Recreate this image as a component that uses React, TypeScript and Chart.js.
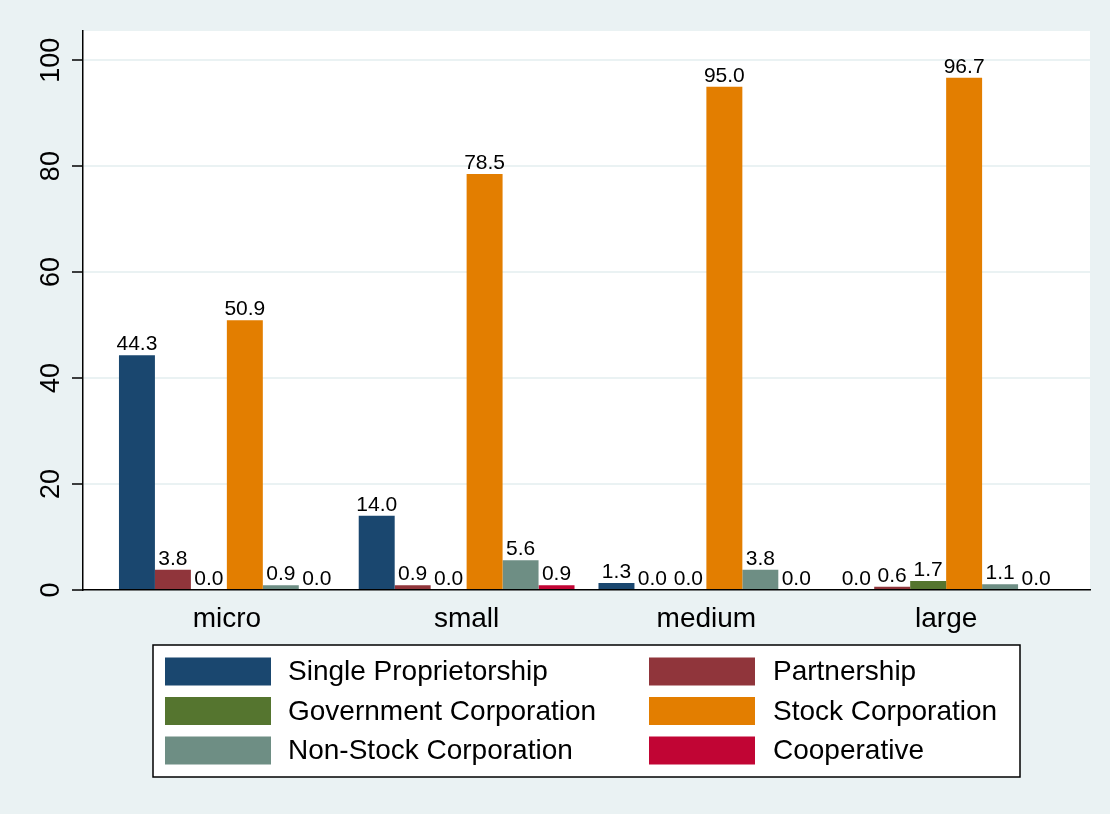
import React, { useEffect, useRef } from "react";
import { Chart, registerables } from "chart.js";

Chart.register(...registerables);

const categories = ["micro", "small", "medium", "large"];
const seriesNames = [
  "Single Proprietorship",
  "Partnership",
  "Government Corporation",
  "Stock Corporation",
  "Non-Stock Corporation",
  "Cooperative",
];
const singleProp = [44.3, 14.0, 1.3, 0.0];
const partnership = [3.8, 0.9, 0.0, 0.6];
const govCorp = [0.0, 0.0, 0.0, 1.7];
const stockCorp = [50.9, 78.5, 95.0, 96.7];
const nonStock = [0.9, 5.6, 3.8, 1.1];
const cooperative = [0.0, 0.9, 0.0, 0.0];
const yTicks = [0, 20, 40, 60, 80, 100];

const seriesValues = [singleProp, partnership, govCorp, stockCorp, nonStock, cooperative];
const colors = ["#1a476f", "#90353b", "#55752f", "#e37e00", "#6e8e84", "#c10534"];

const FONT = "'Liberation Sans', Arial, Helvetica, sans-serif";
const BG = "#eaf2f3";

const decorPlugin = {
  id: "decor",
  beforeDraw(chart: any) {
    const { ctx, chartArea } = chart;
    ctx.save();
    ctx.fillStyle = BG;
    ctx.fillRect(0, 0, chart.width, chart.height);
    ctx.fillStyle = "#ffffff";
    ctx.fillRect(chartArea.left, chartArea.top, chartArea.right - chartArea.left, chartArea.bottom - chartArea.top);
    ctx.restore();
  },
  afterDatasetsDraw(chart: any) {
    const { ctx } = chart;
    ctx.save();
    ctx.font = `21px ${FONT}`;
    ctx.fillStyle = "#000";
    ctx.textAlign = "center";
    ctx.textBaseline = "alphabetic";
    chart.data.datasets.forEach((ds: any, i: number) => {
      const meta = chart.getDatasetMeta(i);
      meta.data.forEach((el: any, j: number) => {
        const v = ds.data[j].y;
        ctx.fillText(v.toFixed(1), el.x, el.y - 5);
      });
    });
    ctx.restore();
  },
  afterDraw(chart: any) {
    const { ctx } = chart;
    const yScale = chart.scales.y;
    ctx.save();
    // y tick labels, rotated
    ctx.font = `27px ${FONT}`;
    ctx.fillStyle = "#000";
    ctx.textAlign = "center";
    ctx.textBaseline = "middle";
    yTicks.forEach((t) => {
      const y = yScale.getPixelForValue(t);
      ctx.save();
      ctx.translate(52, y);
      ctx.rotate(-Math.PI / 2);
      ctx.fillText(String(t), 0, 0);
      ctx.restore();
    });
    // legend
    const lx = 153, ly = 645, lw = 867, lh = 132;
    ctx.fillStyle = "#ffffff";
    ctx.fillRect(lx, ly, lw, lh);
    ctx.strokeStyle = "#000";
    ctx.lineWidth = 1.5;
    ctx.strokeRect(lx, ly, lw, lh);
    ctx.font = `28px ${FONT}`;
    ctx.textAlign = "left";
    ctx.textBaseline = "middle";
    seriesNames.forEach((name, i) => {
      const col = i % 2;
      const row = Math.floor(i / 2);
      const sx = col === 0 ? 165 : 649;
      const tx = col === 0 ? 288 : 773;
      const cy = 671.5 + row * 39.5;
      ctx.fillStyle = colors[i];
      ctx.fillRect(sx, cy - 14, 106, 28);
      ctx.fillStyle = "#000";
      ctx.fillText(name, tx, cy + 1);
    });
    ctx.restore();
  },
};

export default function App() {
  const ref = useRef<HTMLCanvasElement>(null);
  useEffect(() => {
    document.body.style.margin = "0";
    document.body.style.background = BG;
    const canvas = ref.current!;
    const chart = new Chart(canvas, {
      type: "bar",
      data: {
        datasets: seriesValues.map((vals, i) => ({
          label: seriesNames[i],
          data: vals.map((v, j) => ({ x: j, y: v })),
          backgroundColor: colors[i],
          borderWidth: 0,
          categoryPercentage: 0.9,
          barPercentage: 1.0,
        })),
      },
      options: {
        animation: false,
        responsive: false,
        devicePixelRatio: 1,
        layout: { padding: { top: 31, right: 20, left: 0, bottom: 0 } },
        plugins: { legend: { display: false }, tooltip: { enabled: false } },
        scales: {
          x: {
            type: "linear",
            min: -0.6,
            max: 3.6,
            offset: false,
            afterBuildTicks: (scale: any) => {
              scale.ticks = categories.map((_, i) => ({ value: i }));
            },
            afterFit: (scale: any) => {
              scale.height = 814 - 590;
            },
            grid: { display: false, drawTicks: false, offset: false },
            border: { display: true, color: "#000", width: 1.5 },
            ticks: {
              autoSkip: false,
              maxRotation: 0,
              minRotation: 0,
              padding: 12,
              color: "#000",
              font: { family: FONT, size: 28 },
              callback: (v: any) => categories[v] ?? "",
            },
          },
          y: {
            type: "linear",
            min: 0,
            max: 105.5,
            afterBuildTicks: (scale: any) => {
              scale.ticks = yTicks.map((v) => ({ value: v }));
            },
            afterFit: (scale: any) => {
              scale.width = 83;
            },
            border: { display: true, color: "#000", width: 1.5 },
            grid: {
              color: (c: any) => (c.tick && c.tick.value === 0 ? "rgba(0,0,0,0)" : BG),
              lineWidth: 2,
              drawTicks: true,
              tickLength: 11,
              tickColor: "#000",
              tickWidth: 1.5,
            },
            ticks: { display: false },
          },
        },
      },
      plugins: [decorPlugin],
    } as any);
    return () => chart.destroy();
  }, []);
  return (
    <div style={{ width: 1110, height: 814 }}>
      <canvas ref={ref} width={1110} height={814} style={{ display: "block" }} />
    </div>
  );
}
